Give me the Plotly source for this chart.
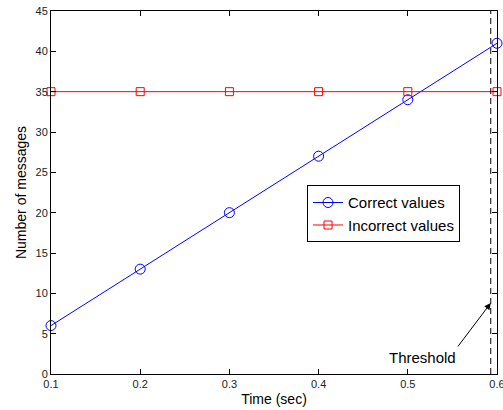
import plotly.graph_objects as go

time_sec = [0.1, 0.2, 0.3, 0.4, 0.5, 0.6]
correct_values = [6, 13, 20, 27, 34, 41]
incorrect_values = [35, 35, 35, 35, 35, 35]
threshold_x = 0.593
arrow_tip_y = 8.8
x_ticks = [0.1, 0.2, 0.3, 0.4, 0.5, 0.6]
y_ticks = [0, 5, 10, 15, 20, 25, 30, 35, 40, 45]

font = "Liberation Sans, Arial, sans-serif"

fig = go.Figure()
fig.add_trace(go.Scatter(
    x=time_sec, y=correct_values, mode="lines+markers", name="Correct values",
    line=dict(color="#0000ff", width=1),
    marker=dict(symbol="circle-open", size=10, color="#0000ff", line=dict(width=1)),
    cliponaxis=False))
fig.add_trace(go.Scatter(
    x=time_sec, y=incorrect_values, mode="lines+markers", name="Incorrect values",
    line=dict(color="#ff0000", width=1),
    marker=dict(symbol="square-open", size=8, color="#ff0000", line=dict(width=1)),
    cliponaxis=False))

fig.add_shape(type="line", x0=threshold_x, x1=threshold_x, y0=0, y1=1,
              xref="x", yref="paper",
              line=dict(color="black", width=1, dash="6px,4px"))

fig.add_annotation(x=threshold_x, y=arrow_tip_y, xref="x", yref="y",
                   text="", showarrow=True, arrowhead=2, arrowsize=1.3,
                   arrowwidth=1, arrowcolor="black", ax=-34, ay=45)
fig.add_annotation(x=0.5165, y=2.0, xref="x", yref="y", text="Threshold",
                   xanchor="center", yanchor="middle",
                   showarrow=False, font=dict(family=font, size=15, color="black"))

axis_common = dict(showline=True, linecolor="black", linewidth=1, mirror="ticks",
                   ticks="inside", ticklen=5, tickcolor="black", showgrid=False,
                   zeroline=False, ticklabeloverflow="allow", automargin=False,
                   tickfont=dict(family=font, size=11, color="#222"))

fig.update_xaxes(range=[0.1, 0.6], tickvals=x_ticks, ticktext=[str(t) for t in x_ticks],
                 title=dict(text="Time (sec)", font=dict(family=font, size=14, color="black"), standoff=4),
                 **axis_common)
fig.update_yaxes(range=[0, 45], tickvals=y_ticks,
                 title=dict(text="Number of messages", font=dict(family=font, size=14, color="black"), standoff=5),
                 **axis_common)

fig.update_layout(
    width=503, height=410, autosize=False,
    margin=dict(l=51, r=6, t=11, b=36),
    plot_bgcolor="white", paper_bgcolor="white",
    font=dict(family=font),
    legend=dict(x=0.574, y=0.52, xanchor="left", yanchor="top",
                bgcolor="white", bordercolor="black", borderwidth=1,
                font=dict(family=font, size=15, color="black"),
                tracegroupgap=0, itemwidth=30),
    showlegend=True,
)

fig.write_html("out.html")
